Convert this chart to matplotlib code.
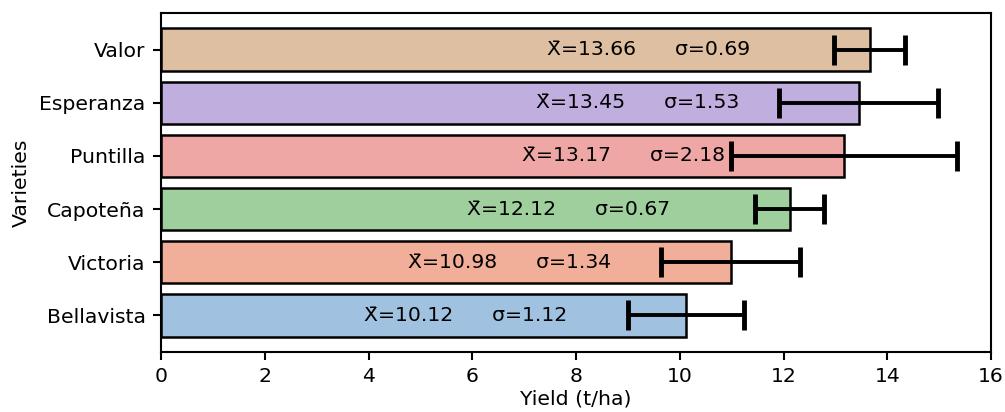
import matplotlib
matplotlib.use("Agg")
import matplotlib.pyplot as plt
import numpy as np

# rendimiento por variedad (media y desviación estándar)
variedades = ["Bellavista", "Victoria", "Capoteña", "Puntilla", "Esperanza", "Valor"]
medias = [10.12, 10.98, 12.12, 13.17, 13.45, 13.66]
desv = [1.12, 1.34, 0.67, 2.18, 1.53, 0.69]
colores = ["#a1c1e0", "#f1ae98", "#a0cf9e", "#efa7a6", "#c0aedf", "#debfa1"]

plt.rcParams["font.size"] = 14.7

fig = plt.figure(figsize=(10.05, 4.12), dpi=100)
ax = fig.add_axes([161/1005, 60/412, 830/1005, 339/412])

y = np.arange(len(variedades))
ax.barh(y, medias, height=0.8, color=colores, edgecolor="black", linewidth=1.8,
        xerr=desv, capsize=11, error_kw=dict(elinewidth=2.8, capthick=3.5, ecolor="black"))

for i in range(len(y)):
    ax.text(medias[i] - 2.3, y[i], "X\u0304=%.2f      \u03c3=%.2f" % (medias[i], desv[i]),
            ha="right", va="center", fontsize=14.7)

ax.set_yticks(y)
ax.set_yticklabels(variedades)
ax.set_xlim(0, 16)
ax.set_xticks(np.arange(0, 17, 2))
ax.set_xlabel("Yield (t/ha)", labelpad=2)
ax.set_ylabel("Varieties", labelpad=6)
for s in ax.spines.values():
    s.set_linewidth(1.5)
ax.tick_params(width=1.5, length=6, pad=5)

fig.savefig("out.png", dpi=100)
